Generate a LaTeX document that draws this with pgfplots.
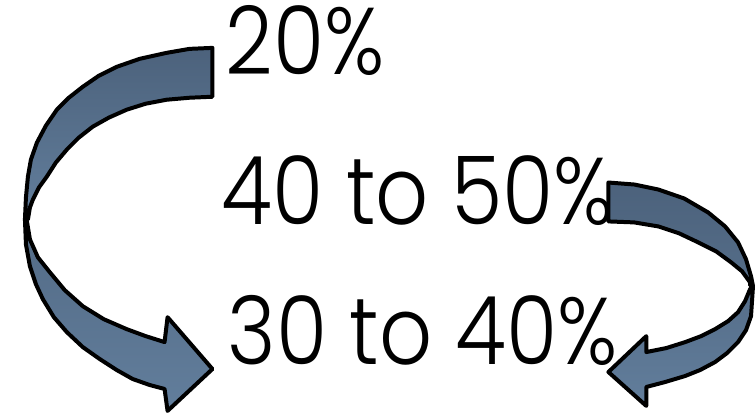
\documentclass[border=0pt]{standalone}
\usepackage{fontspec}
\setmainfont{Poppins Light}
\usepackage{pgfplots}
\pgfplotsset{compat=1.18}
\definecolor{arrtop}{HTML}{4C627C}
\definecolor{arrbot}{HTML}{627E9C}
\begin{document}
\begin{tikzpicture}
\begin{axis}[
  width=755pt, height=414pt, scale only axis,
  xmin=0, xmax=755, ymin=0, ymax=414, y dir=reverse,
  hide axis, clip=false,
]
\path (axis cs:0,0) rectangle (axis cs:755,414);
% left arrow, upper band
\addplot[draw=none, top color=arrtop, bottom color=arrbot] coordinates {
(213,48)(190,49)(167,53)(140,59)(117,67)(99,76)(83,87)(69,98)(57,110)(46,126)(37,143)(31,160)(28,177)(26,198)(25,220)
(28,220)(30,208)(33,200)(39,188)(47,177)(56,163)(67,150)(79,138)(93,127)(109,118)(127,110)(146,104)(167,100)(190,98)(213,97)
} -- cycle;
% left arrow, lower band with head
\addplot[draw=none, top color=arrtop!70!arrbot, bottom color=arrbot] coordinates {
(25,220)(26,245)(30,267)(36,285)(43,300)(54,318)(67,333)(83,348)(100,360)(117,371)(133,380)(150,386)(165,390)
(168,412)(213,370)(168,318)(165,343)
(146,337)(127,330)(104,320)(83,307)(65,291)(50,273)(38,258)(30,240)(27,222)
} -- cycle;
% right arrow, upper band
\addplot[draw=none, top color=arrtop, bottom color=arrtop!60!arrbot] coordinates {
(610,183)(636,185)(660,190)(686,199)(710,213)(727,227)(740,243)(748,260)(753,277)(755,287)
(752,286)(752,283)(744,272)(733,263)(718,252)(700,243)(681,234)(660,227)(636,223)(610,222)
} -- cycle;
% right arrow, lower band with head
\addplot[draw=none, top color=arrtop!60!arrbot, bottom color=arrbot] coordinates {
(755,287)(753,317)(748,331)(740,343)(729,354)(717,363)(702,371)(687,377)(667,383)(648,388)
(648,407)(610,373)(648,337)(648,353)
(668,349)(687,343)(703,337)(717,330)(730,322)(740,313)(747,302)(752,290)
} -- cycle;
% outlines
\draw[black, line width=4pt, line join=round] plot coordinates {
(213,48)(190,49)(167,53)(140,59)(117,67)(99,76)(83,87)(69,98)(57,110)(46,126)(37,143)(31,160)(28,177)(26,198)(25,220)
(28,220)(30,208)(33,200)(39,188)(47,177)(56,163)(67,150)(79,138)(93,127)(109,118)(127,110)(146,104)(167,100)(190,98)(213,97)
} -- cycle;
\draw[black, line width=4pt, line join=round] plot coordinates {
(25,220)(26,245)(30,267)(36,285)(43,300)(54,318)(67,333)(83,348)(100,360)(117,371)(133,380)(150,386)(165,390)
(168,412)(213,370)(168,318)(165,343)
(146,337)(127,330)(104,320)(83,307)(65,291)(50,273)(38,258)(30,240)(27,222)
} -- cycle;
\draw[black, line width=4pt, line join=round] plot coordinates {
(610,183)(636,185)(660,190)(686,199)(710,213)(727,227)(740,243)(748,260)(753,277)(755,287)
(752,286)(752,283)(744,272)(733,263)(718,252)(700,243)(681,234)(660,227)(636,223)(610,222)
} -- cycle;
\draw[black, line width=4pt, line join=round] plot coordinates {
(755,287)(753,317)(748,331)(740,343)(729,354)(717,363)(702,371)(687,377)(667,383)(648,388)
(648,407)(610,373)(648,337)(648,353)
(668,349)(687,343)(703,337)(717,330)(730,322)(740,313)(747,302)(752,290)
} -- cycle;
\node[anchor=base west, inner sep=0pt, xscale=0.875, font=\fontsize{95}{100}\selectfont] at (axis cs:226,75) {20\%};
\node[anchor=base west, inner sep=0pt, xscale=0.875, font=\fontsize{95}{100}\selectfont] at (axis cs:222,225) {40 to 50\%};
\node[anchor=base west, inner sep=0pt, xscale=0.875, font=\fontsize{95}{100}\selectfont] at (axis cs:228,365) {30 to 40\%};
\end{axis}
\end{tikzpicture}
\end{document}
